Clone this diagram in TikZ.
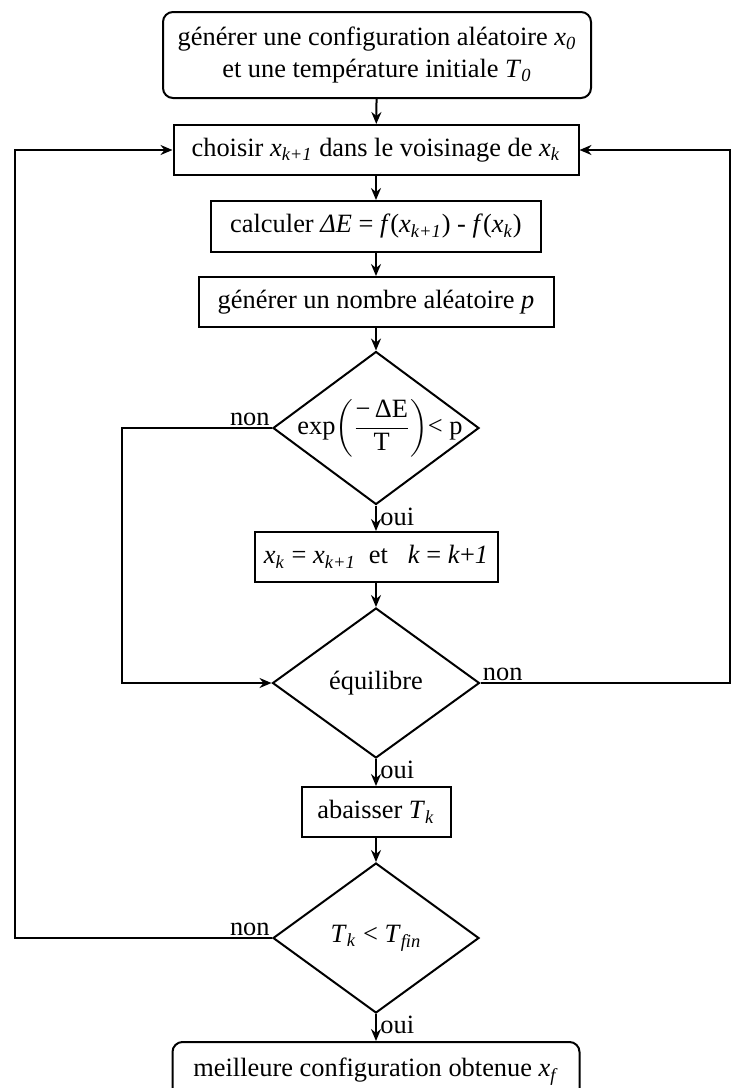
\documentclass[tikz,border=0pt]{standalone}
\usepackage{amsmath}
\usepackage{fontspec}
\setmainfont{Liberation Serif}
\usetikzlibrary{shapes.geometric,arrows.meta}

% italic index helper
\newcommand{\idx}[1]{\textsubscript{\textit{#1}}}

\begin{document}
\begin{tikzpicture}[x=0.5pt,y=-0.5pt,
  every node/.style={font=\fontsize{13.2}{13.4}\selectfont},
  box/.style={draw, line width=1pt, inner sep=0pt, align=center},
  rbox/.style={box, rounded corners=5pt},
  dec/.style={draw, diamond, line width=1pt, inner sep=0pt},
  txt/.style={inner sep=0pt, align=center},
  lbl/.style={inner sep=1pt},
  arr/.style={line width=1pt, -{Stealth[length=6pt,width=5pt,inset=2pt]}}]
\useasboundingbox (0,0) rectangle (732,1088);

% main column
\node[rbox, minimum width=214pt, minimum height=43pt] (init) at (377,55)
  {générer une configuration aléatoire \textit{x}\idx{0}\\[2.5pt]
   et une température initiale \textit{T}\idx{0}};
\node[box, minimum width=202.5pt, minimum height=25pt] (choose) at (376,150)
  {choisir \textit{x}\idx{k+1} dans le voisinage de \textit{x}\idx{k}};
\node[box, minimum width=165pt, minimum height=25.5pt] (delta) at (376,226.5)
  {calculer \textit{ΔE} = \textit{f}(\textit{x}\idx{k+1}) - \textit{f}(\textit{x}\idx{k})};
\node[box, minimum width=177.5pt, minimum height=25pt] (rand) at (376,302)
  {générer un nombre aléatoire \textit{p}};
\node[dec, minimum width=103pt, minimum height=76.5pt] (accept) at (376,428) {};
\node[txt] at ([xshift=2pt]accept.center)
  {$\text{exp}\!\left(\dfrac{\text{−\,ΔE}}{\text{T}}\right)\!\text{< p}$};
\node[box, minimum width=121.5pt, minimum height=25pt] (update) at (376,557)
  {\textit{x}\idx{k} = \textit{x}\idx{k+1}\enspace et\enspace\ \textit{k} = \textit{k}+\textit{1}};
\node[dec, minimum width=103.5pt, minimum height=75pt] (equil) at (376,683) {};
\node[txt] at (equil.center) {équilibre};
\node[box, minimum width=74.5pt, minimum height=25pt] (cool) at (376,812)
  {abaisser \textit{T}\idx{k}};
\node[dec, minimum width=103pt, minimum height=75pt] (stop) at (376,938) {};
\node[txt] at (stop.center) {\textit{T}\idx{k} < \textit{T}\idx{fin}};
\node[rbox, minimum width=203.5pt, minimum height=30pt] (best) at (376,1072)
  {meilleure configuration obtenue \textit{x}\idx{f}};

% vertical flow
\draw[arr] (init) -- (choose);
\draw[arr] (choose) -- (delta);
\draw[arr] (delta) -- (rand);
\draw[arr] (rand) -- (accept);
\draw[arr] (accept) -- (update);
\draw[arr] (update) -- (equil);
\draw[arr] (equil) -- (cool);
\draw[arr] (cool) -- (stop);
\draw[arr] (stop) -- (best);

% return loops
\coordinate (innerleft) at (122,600);
\coordinate (farleft) at (15,600);
\coordinate (farright) at (730,400);
\draw[arr] (accept.west) -| (innerleft) |- (equil.west);
\draw[arr] (equil.east) -| (farright) |- (choose.east);
\draw[arr] (stop.west) -| (farleft) |- (choose.west);

% branch labels
\node[lbl, anchor=south east] at (accept.west) {non};
\node[lbl, anchor=north west] at ([xshift=1pt]accept.south) {oui};
\node[lbl, anchor=south west] at (equil.east) {non};
\node[lbl, anchor=north west] at ([xshift=1pt]equil.south) {oui};
\node[lbl, anchor=south east] at (stop.west) {non};
\node[lbl, anchor=north west] at ([xshift=1pt]stop.south) {oui};
\end{tikzpicture}
\end{document}
